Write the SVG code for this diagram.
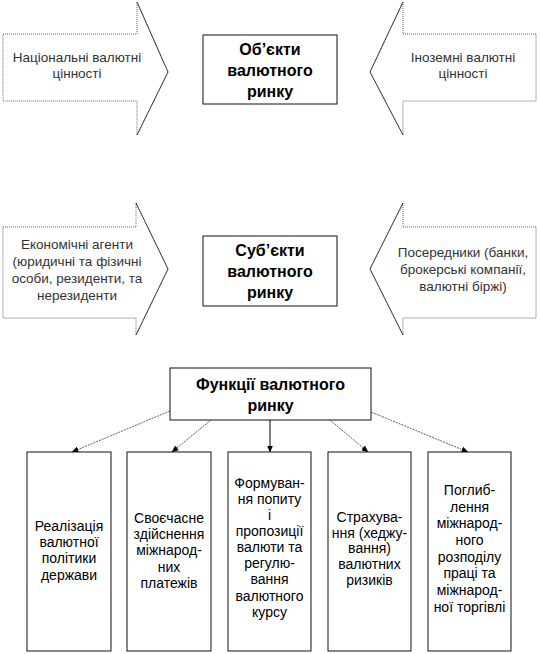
<svg xmlns="http://www.w3.org/2000/svg" width="540" height="654" viewBox="0 0 540 654">
<style>
.arrow{fill:#fff;stroke:#666;stroke-width:1;stroke-dasharray:1 1}
.diag{fill:none;stroke:#222;stroke-width:0.8}
.box{fill:#fff;stroke:#111;stroke-width:1}
.t{font-family:"Liberation Sans",Arial,sans-serif;font-size:14px;fill:#000;text-anchor:middle}
.at{font-family:"Liberation Sans",Arial,sans-serif;font-size:13.5px;fill:#333;text-anchor:middle}
.b{font-family:"Liberation Sans",Arial,sans-serif;font-size:16px;font-weight:bold;fill:#000;text-anchor:middle}
.con{fill:none;stroke:#333;stroke-width:0.8;stroke-dasharray:2 1}
.solid{fill:none;stroke:#000;stroke-width:1}
</style>
<defs>
<marker id="ah" markerWidth="7" markerHeight="6" refX="6.5" refY="3" orient="auto" markerUnits="userSpaceOnUse">
<path d="M0,0 L7,3 L0,6 Z" fill="#000"/>
</marker>
</defs>
<rect width="540" height="654" fill="#fff"/>

<g id="nat">
<polygon class="arrow" points="3,34 137,34 137,2 168,72 137,135 137,101 3,101"/>
<path class="diag" d="M137,2 L168,72 L137,135"/>
<text class="at" x="77" y="62">Національні валютні</text>
<text class="at" x="77" y="78">цінності</text>
</g>
<g id="obj">
<rect class="box" x="203" y="35" width="134" height="69"/>
<text class="b" x="270" y="55">Об’єкти</text>
<text class="b" x="270" y="76">валютного</text>
<text class="b" x="270" y="97">ринку</text>
</g>
<g id="foreign">
<polygon class="arrow" points="536,34 403,34 403,2 370,72 403,135 403,101 536,101"/>
<path class="diag" d="M403,2 L370,72 L403,135"/>
<text class="at" x="463" y="62">Іноземні валютні</text>
<text class="at" x="463" y="78">цінності</text>
</g>

<g id="agents">
<polygon class="arrow" points="3,227 136,227 136,203 168,269 136,335 136,318 3,318"/>
<path class="diag" d="M136,203 L168,269 L136,335"/>
<text class="at" x="77" y="249">Економічні агенти</text>
<text class="at" x="77" y="266">(юридичні та фізичні</text>
<text class="at" x="77" y="283">особи, резиденти, та</text>
<text class="at" x="77" y="300">нерезиденти</text>
</g>
<g id="subj">
<rect class="box" x="203" y="236" width="134" height="70"/>
<text class="b" x="270" y="256">Суб’єкти</text>
<text class="b" x="270" y="277">валютного</text>
<text class="b" x="270" y="298">ринку</text>
</g>
<g id="intermed">
<polygon class="arrow" points="536,227 403,227 403,203 370,269 403,335 403,318 536,318"/>
<path class="diag" d="M403,203 L370,269 L403,335"/>
<text class="at" x="463" y="257">Посередники (банки,</text>
<text class="at" x="463" y="274">брокерські компанії,</text>
<text class="at" x="463" y="291">валютні біржі)</text>
</g>

<g id="func">
<rect class="box" x="170" y="368" width="201" height="52"/>
<text class="b" x="270.5" y="390">Функції валютного</text>
<text class="b" x="270.5" y="411">ринку</text>
</g>

<g id="connectors">
<line class="con" x1="170" y1="411" x2="72" y2="452" marker-end="url(#ah)"/>
<line class="con" x1="211" y1="420" x2="172" y2="452" marker-end="url(#ah)"/>
<line class="solid" x1="270" y1="420" x2="270" y2="452" marker-end="url(#ah)"/>
<line class="con" x1="330" y1="420" x2="368" y2="452" marker-end="url(#ah)"/>
<line class="con" x1="371" y1="412" x2="468" y2="452" marker-end="url(#ah)"/>
</g>

<g id="f1">
<rect class="box" x="27" y="452" width="84" height="199"/>
<text class="t" x="69" y="531">Реалізація</text>
<text class="t" x="69" y="547">валютної</text>
<text class="t" x="69" y="563">політики</text>
<text class="t" x="69" y="580">держави</text>
</g>
<g id="f2">
<rect class="box" x="127" y="452" width="84" height="199"/>
<text class="t" x="169" y="523">Своєчасне</text>
<text class="t" x="169" y="539">здійснення</text>
<text class="t" x="169" y="555">міжнарод-</text>
<text class="t" x="169" y="572">них</text>
<text class="t" x="169" y="588">платежів</text>
</g>
<g id="f3">
<rect class="box" x="228" y="452" width="83" height="199"/>
<text class="t" x="269.5" y="488">Формуван-</text>
<text class="t" x="269.5" y="504">ня попиту</text>
<text class="t" x="269.5" y="520">і</text>
<text class="t" x="269.5" y="536">пропозиції</text>
<text class="t" x="269.5" y="552">валюти та</text>
<text class="t" x="269.5" y="568">регулю-</text>
<text class="t" x="269.5" y="584">вання</text>
<text class="t" x="269.5" y="601">валютного</text>
<text class="t" x="269.5" y="617">курсу</text>
</g>
<g id="f4">
<rect class="box" x="328" y="452" width="83" height="199"/>
<text class="t" x="369.5" y="522">Страхува-</text>
<text class="t" x="369.5" y="538">ння (хеджу-</text>
<text class="t" x="369.5" y="553">вання)</text>
<text class="t" x="369.5" y="569">валютних</text>
<text class="t" x="369.5" y="585">ризиків</text>
</g>
<g id="f5">
<rect class="box" x="428" y="452" width="83" height="199"/>
<text class="t" x="469.5" y="495">Поглиб-</text>
<text class="t" x="469.5" y="512">лення</text>
<text class="t" x="469.5" y="528">міжнарод-</text>
<text class="t" x="469.5" y="545">ного</text>
<text class="t" x="469.5" y="562">розподілу</text>
<text class="t" x="469.5" y="578">праці та</text>
<text class="t" x="469.5" y="595">міжнарод-</text>
<text class="t" x="469.5" y="612">ної торгівлі</text>
</g>
</svg>
